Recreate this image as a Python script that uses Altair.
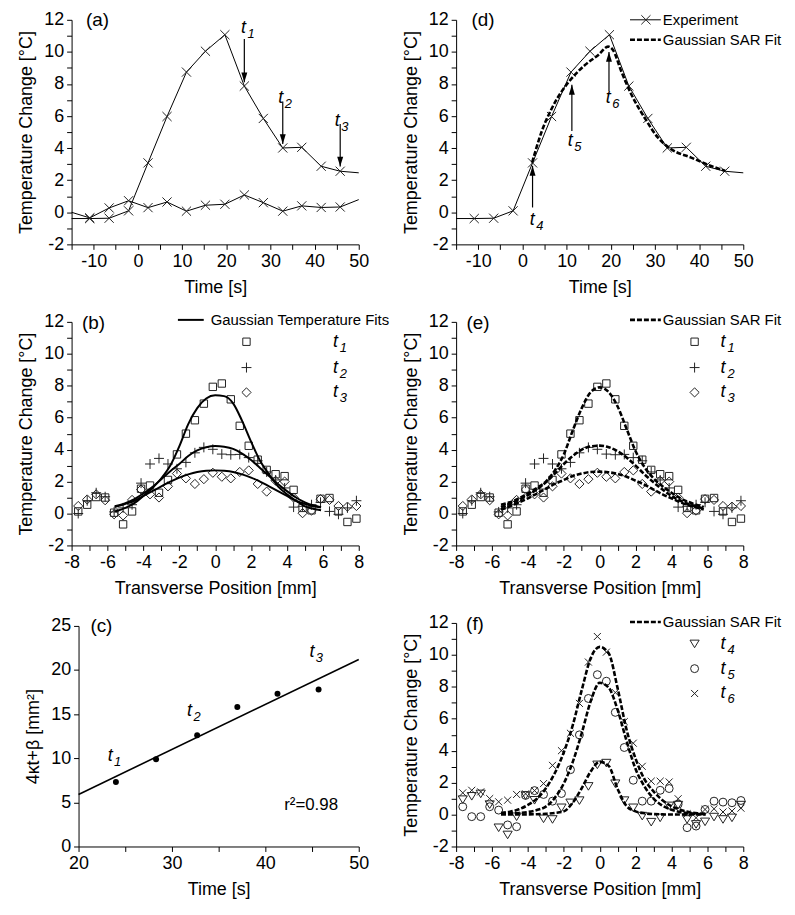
import altair as alt
import pandas as pd

FONT = "Liberation Sans"

# ---------------- data ----------------
# (a)/(d) time traces
time_a = [-15, -10.9, -6.5, -2.1, 2.3, 6.6, 11.0, 15.3, 19.7, 24.1, 28.4, 32.8, 37.1, 41.5, 45.8, 50]
heating = [-0.39, -0.39, -0.37, 0.09, 3.08, 5.97, 8.74, 10.04, 11.07, 7.87, 5.85, 4.01, 4.05, 2.87, 2.56, 2.46]
control = [0.0, -0.35, 0.27, 0.72, 0.29, 0.64, 0.07, 0.44, 0.5, 1.08, 0.6, 0.07, 0.4, 0.3, 0.33, 0.79]

# (d) Gaussian SAR fit in time
fit_time = [2.2, 4.4, 6.7, 8.9, 11.2, 14.2, 17.2, 19.4, 20.5, 22.4, 24.7, 27.7, 30.7, 33.7, 38.2, 42.7, 45.9]
fit_temp = [3.1, 5.06, 6.5, 7.54, 8.36, 9.19, 9.81, 10.33, 10.12, 8.78, 7.33, 5.88, 4.65, 3.93, 3.41, 2.89, 2.58]

# arrows (a) and (d)
arrow_a_x = [24.1, 32.8, 45.8]
arrow_a_from = [10.8, 6.9, 5.5]
arrow_a_to = [8.1, 4.25, 2.85]
label_a_x = [24.6, 33.0, 45.8]
label_a_y = [11.5, 7.1, 5.7]
label_a_sub = ["1", "2", "3"]

arrow_d_x = [2.3, 11.2, 19.6]
arrow_d_from = [0.3, 5.06, 7.54]
arrow_d_to = [2.9, 7.95, 10.0]
label_d_x = [2.9, 11.5, 20.1]
label_d_y = [-0.5, 4.45, 7.1]
label_d_sub = ["4", "5", "6"]

# transverse profiles
pos = [-7.63, -7.13, -6.63, -6.13, -5.63, -5.13, -4.63, -4.13, -3.63, -3.13, -2.63, -2.13,
       -1.63, -1.13, -0.63, -0.13, 0.37, 0.87, 1.37, 1.87, 2.37, 2.87, 3.37, 3.87,
       4.37, 4.87, 5.37, 5.87, 6.37, 6.87, 7.37, 7.87]
prof_t1 = [0.13, 0.55, 1.03, 1.0, 0.05, -0.68, 0.13, 1.55, 1.75, 1.3, 2.1, 3.7,
           5.0, 5.84, 6.88, 7.93, 8.14, 7.15, 5.49, 4.24, 3.37, 2.73, 2.46, 2.34,
           1.48, 0.35, 0.2, 0.92, 0.97, 0.13, -0.53, -0.32]
prof_t2 = [0.0, 0.8, 1.3, 1.05, 0.1, 0.35, 0.55, 1.9, 3.1, 3.45, 3.1, 2.8,
           3.2, 3.8, 4.14, 4.02, 3.72, 3.68, 3.7, 3.5, 3.3, 2.6, 2.1, 1.6,
           0.4, 0.45, 0.55, 0.7, 0.13, -0.05, 0.35, 0.8]
prof_t3 = [0.47, 0.88, 1.2, 0.83, -0.05, -0.12, 0.85, 1.5, 1.2, 1.0, 1.7, 2.5,
           2.2, 1.85, 2.15, 2.55, 2.3, 2.2, 2.6, 2.7, 1.85, 1.37, 2.05, 2.0,
           1.0, 0.02, 0.18, 0.9, 0.85, 0.47, 0.43, 0.47]
prof_t4 = [0.94, 1.15, 1.3, 0.63, -0.82, -1.27, -0.13, 1.2, 0.9, -0.26, -0.3, 0.43,
           0.74, 0.88, 1.77, 3.12, 3.23, 1.94, 0.88, 0.43, -0.09, -0.47, -0.2, 0.55,
           0.6, -0.3, -0.61, -0.45, -0.15, -0.3, -0.2, 0.6]
prof_t5 = [0.49, -0.13, -0.13, 0.49, 0.28, -0.65, -0.76, 1.2, 1.5, 1.26, 0.84, 1.32,
           2.81, 4.99, 7.27, 8.76, 8.35, 6.4, 4.2, 2.15, 0.84, 0.84, 1.52, 1.63,
           0.65, -0.82, -0.72, 0.32, 0.84, 0.78, 0.74, 0.88]
prof_t6 = [1.36, 1.52, 1.42, 1.0, 0.8, 0.9, 1.26, 1.3, 1.5, 1.94, 3.08, 4.0,
           5.09, 6.96, 9.55, 11.15, 10.17, 7.64, 5.82, 4.47, 3.02, 2.09, 2.09, 2.04,
           0.99, 0.05, -0.2, 0.32, 0.36, 0.16, 0.22, 0.4]

# (b) Gaussian temperature fits
fit_pos_b = [-5.6, -5.0, -4.5, -4.0, -3.5, -3.0, -2.5, -2.0, -1.5, -1.0, -0.5, 0.0,
             0.5, 1.0, 1.5, 2.0, 2.5, 3.0, 3.5, 4.0, 4.5, 5.0, 5.5, 5.9]
b_fit_t1 = [0.12, 0.35, 0.65, 1.1, 1.6, 2.2, 3.0, 4.2, 5.6, 6.6, 7.2, 7.4,
            7.35, 6.9, 5.8, 4.5, 3.3, 2.45, 1.7, 1.2, 0.8, 0.45, 0.28, 0.2]
b_fit_t2 = [0.45, 0.65, 0.9, 1.25, 1.65, 2.15, 2.65, 3.1, 3.6, 3.95, 4.15, 4.22,
            4.18, 4.05, 3.75, 3.35, 2.85, 2.35, 1.85, 1.4, 1.0, 0.7, 0.5, 0.4]
b_fit_t3 = [0.4, 0.6, 0.8, 1.1, 1.4, 1.7, 2.0, 2.25, 2.45, 2.6, 2.68, 2.7,
            2.67, 2.6, 2.45, 2.25, 2.0, 1.7, 1.4, 1.1, 0.8, 0.6, 0.45, 0.38]

# (e) Gaussian SAR fits for t1..t3
fit_pos_e = [-5.5, -5.0, -4.5, -4.0, -3.5, -3.0, -2.5, -2.0, -1.5, -1.0, -0.5, 0.0,
             0.5, 1.0, 1.5, 2.0, 2.5, 3.0, 3.5, 4.0, 4.5, 5.0, 5.5, 5.8]
e_fit_t1 = [0.55, 0.7, 0.95, 1.25, 1.6, 2.0, 2.7, 3.7, 5.2, 6.6, 7.6, 7.9,
            7.6, 6.7, 5.3, 3.9, 2.9, 2.2, 1.7, 1.3, 0.95, 0.7, 0.5, 0.4]
e_fit_t2 = [0.4, 0.6, 0.85, 1.15, 1.5, 1.95, 2.5, 3.1, 3.6, 4.0, 4.2, 4.25,
            4.15, 3.9, 3.5, 3.0, 2.45, 1.95, 1.5, 1.1, 0.8, 0.55, 0.4, 0.3]
e_fit_t3 = [0.25, 0.45, 0.7, 0.95, 1.25, 1.55, 1.85, 2.1, 2.35, 2.5, 2.6, 2.62,
            2.58, 2.48, 2.3, 2.05, 1.8, 1.5, 1.2, 0.95, 0.7, 0.5, 0.35, 0.25]

# (f) Gaussian SAR fits for t4..t6
fit_pos_f = [-5.5, -5.0, -4.5, -4.0, -3.5, -3.0, -2.5, -2.0, -1.5, -1.0, -0.5, 0.0,
             0.5, 1.0, 1.5, 2.0, 2.5, 3.0, 3.5, 4.0, 4.5, 5.0, 5.5, 5.9]
f_fit_t4 = [0.0, 0.0, 0.0, 0.01, 0.02, 0.05, 0.1, 0.2, 0.75, 1.65, 2.7, 3.3,
            3.05, 1.6, 0.53, 0.2, 0.08, 0.03, 0.01, 0.0, 0.0, 0.0, 0.0, 0.0]
f_fit_t5 = [0.05, 0.07, 0.1, 0.16, 0.28, 0.5, 1.05, 1.95, 3.3, 5.1, 7.1, 8.25,
            7.95, 6.55, 4.6, 2.85, 1.75, 1.0, 0.55, 0.3, 0.15, 0.08, 0.04, 0.02]
f_fit_t6 = [0.1, 0.18, 0.33, 0.6, 1.0, 1.65, 2.6, 3.9, 5.6, 7.8, 9.8, 10.5,
            10.1, 7.9, 5.3, 3.5, 2.2, 1.45, 0.9, 0.52, 0.3, 0.15, 0.08, 0.05]

# (c) width parameter vs time
c_time = [24.0, 28.3, 32.7, 37.0, 41.3, 45.7]
c_val = [7.3, 9.9, 12.6, 15.8, 17.3, 17.8]
c_line_time = [20, 50]
c_line_val = [5.9, 21.2]
label_c_x = [23.7, 32.2, 45.3]
label_c_y = [10.3, 15.4, 22.0]
label_c_sub = ["1", "2", "3"]

# axis ticks
time_ticks = [-15, -10, -5, 0, 5, 10, 15, 20, 25, 30, 35, 40, 45, 50]
temp_ticks = [-2, -1, 0, 1, 2, 3, 4, 5, 6, 7, 8, 9, 10, 11, 12]
pos_ticks = [-8, -7, -6, -5, -4, -3, -2, -1, 0, 1, 2, 3, 4, 5, 6, 7, 8]
c_time_ticks = [20, 25, 30, 35, 40, 45, 50]
c_val_ticks = [0, 5, 10, 15, 20, 25]

# ---------------- styles ----------------
XSHAPE = "M-1,-1L1,1M-1,1L1,-1"
PLUS = "M-1,0L1,0M0,-1L0,1"
TRI_DOWN = "M-1,-0.8L1,-0.8L0,0.85Z"
HEAD_DOWN = "M-0.6,-1L0.6,-1L0,1Z"
HEAD_UP = "M-0.6,1L0.6,1L0,-1Z"
MK = "#222222"
DASH = [5, 2]

ONE = pd.DataFrame({"k": [0]})


def axis(title, values, every, **kw):
    return alt.Axis(title=title, values=values,
                    labelExpr=f"datum.value % {every} == 0 ? '' + datum.value : ''", **kw)


def enc(xs, xa, ys, ya, xf="x", yf="y"):
    return dict(x=alt.X(f"{xf}:Q", scale=xs, axis=xa), y=alt.Y(f"{yf}:Q", scale=ys, axis=ya))


def ptext(s, x, y, size=15, align="left", style="normal"):
    return alt.Chart(ONE).mark_text(text=s, align=align, baseline="middle", font=FONT,
                                    fontSize=size, fontStyle=style, color="black").encode(
        x=alt.value(x), y=alt.value(y))


def tsub(sub, x, y):
    """italic t with a subscript digit, placed in pixels (legends)"""
    return [ptext("t", x, y, size=18, style="italic"),
            ptext(sub, x + 7, y + 6, size=13, style="italic")]


def hline(x1, x2, y, dash=None, width=1.0):
    kw = dict(color="black", strokeWidth=width)
    if dash:
        kw["strokeDash"] = dash
    return alt.Chart(ONE).mark_rule(**kw).encode(x=alt.value(x1), x2=alt.value(x2), y=alt.value(y))


def psym(shape, size, x, y, filled=False):
    return alt.Chart(ONE).mark_point(shape=shape, size=size, filled=filled, color=MK,
                                     strokeWidth=1, opacity=1).encode(x=alt.value(x), y=alt.value(y))


def dlabels(xv, yv, subs, e):
    df = pd.DataFrame({"x": xv, "y": yv, "sub": subs})
    base = alt.Chart(df).mark_text(text="t", font=FONT, fontSize=18, fontStyle="italic",
                                   baseline="middle", align="center", dx=-3, color="black").encode(**e)
    sub = alt.Chart(df).mark_text(font=FONT, fontSize=13, fontStyle="italic",
                                  baseline="middle", align="left", dx=1, dy=6,
                                  color="black").encode(text="sub:N", **e)
    return [base, sub]


def arrows(xv, y_from, y_to, xs, xa, ys, ya, down=True):
    df = pd.DataFrame({"x": xv, "y": y_from, "y_to": y_to})
    rule = alt.Chart(df).mark_rule(color="black", strokeWidth=1.2).encode(
        y2="y_to:Q", **enc(xs, xa, ys, ya))
    head = alt.Chart(df).mark_point(shape=HEAD_DOWN if down else HEAD_UP, size=100, filled=True,
                                    color="black", opacity=1, yOffset=-5 if down else 5).encode(
        **enc(xs, xa, ys, ya, yf="y_to"))
    return [rule, head]


W = 289
H1 = 226
H = 225

# ---------------- panel (a) ----------------
xs_t = alt.Scale(domain=[-15, 50], nice=False, zero=False)
ys_T = alt.Scale(domain=[-2, 12], nice=False, zero=False)
xa_t = axis("Time [s]", time_ticks, 10)
ya_T = axis("Temperature Change [°C]", temp_ticks, 2)

df_a = pd.concat([
    pd.DataFrame({"x": time_a, "y": heating, "s": "heating"}),
    pd.DataFrame({"x": time_a, "y": control, "s": "control"}),
])
e_a = enc(xs_t, xa_t, ys_T, ya_T)
a_lines = alt.Chart(df_a).mark_line(color="black", strokeWidth=1).encode(detail="s:N", **e_a)
a_pts = alt.Chart(df_a).transform_filter("datum.x > -14 && datum.x < 49").mark_point(
    shape=XSHAPE, size=85, filled=False, color=MK, strokeWidth=1, opacity=1).encode(**e_a)
panel_a = alt.layer(
    a_lines, a_pts, *arrows(arrow_a_x, arrow_a_from, arrow_a_to, xs_t, xa_t, ys_T, ya_T, True),
    *dlabels(label_a_x, label_a_y, label_a_sub, e_a),
    ptext("(a)", 26, 0, size=19, align="center")
).properties(width=W, height=H1)

# ---------------- panel (d) ----------------
df_d = pd.DataFrame({"x": time_a, "y": heating})
df_dfit = pd.DataFrame({"x": fit_time, "y": fit_temp})
d_line = alt.Chart(df_d).mark_line(color="black", strokeWidth=1).encode(**e_a)
d_pts = alt.Chart(df_d).transform_filter("datum.x > -14 && datum.x < 49").mark_point(
    shape=XSHAPE, size=85, filled=False, color=MK, strokeWidth=1, opacity=1).encode(**e_a)
d_fit = alt.Chart(df_dfit).mark_line(color="black", strokeWidth=2.6, strokeDash=DASH,
                                     interpolate="monotone").encode(**e_a)
panel_d = alt.layer(
    d_line, d_pts, d_fit,
    *arrows(arrow_d_x, arrow_d_from, arrow_d_to, xs_t, xa_t, ys_T, ya_T, False),
    *dlabels(label_d_x, label_d_y, label_d_sub, e_a),
    ptext("(d)", 27, 0, size=19, align="center"),
    hline(175, 206, 0), psym(XSHAPE, 85, 191, 0), ptext("Experiment", 208, 0),
    hline(175, 206, 20, DASH, 2.6), ptext("Gaussian SAR Fit", 208, 20),
).properties(width=W, height=H1)

# ---------------- panels (b), (e), (f) ----------------
xs_p = alt.Scale(domain=[-8, 8], nice=False, zero=False)
xa_p = axis("Transverse Position [mm]", pos_ticks, 2)
e_p = enc(xs_p, xa_p, ys_T, ya_T)

df_prof = pd.DataFrame({"x": pos, "t1": prof_t1, "t2": prof_t2, "t3": prof_t3,
                        "t4": prof_t4, "t5": prof_t5, "t6": prof_t6})


def scatter(col, shape, size):
    return alt.Chart(df_prof).mark_point(shape=shape, size=size, filled=False, color=MK,
                                         strokeWidth=1, opacity=1).encode(
        **enc(xs_p, xa_p, ys_T, ya_T, yf=col))


def fits(xv, series, dashed):
    frames = [pd.DataFrame({"x": xv, "y": s, "s": f"f{i}"}) for i, s in enumerate(series)]
    df = pd.concat(frames)
    kw = dict(color="black", interpolate="monotone")
    if dashed:
        kw.update(strokeWidth=2.6, strokeDash=DASH)
    else:
        kw.update(strokeWidth=2)
    return alt.Chart(df).mark_line(**kw).encode(detail="s:N", **e_p)


def sym_legend(shapes, subs, sx, lx, rows):
    out = []
    for (shape, size), sub, ry in zip(shapes, subs, rows):
        out.append(psym(shape, size, sx, ry))
        out.extend(tsub(sub, lx, ry))
    return out


shapes_123 = [("square", 55), (PLUS, 100), ("diamond", 85)]
shapes_456 = [(TRI_DOWN, 85), ("circle", 64), (XSHAPE, 50)]

panel_b = alt.layer(
    scatter("t1", "square", 55), scatter("t2", PLUS, 100), scatter("t3", "diamond", 85),
    fits(fit_pos_b, [b_fit_t1, b_fit_t2, b_fit_t3], False),
    ptext("(b)", 22, 1, size=19, align="center"),
    hline(107, 133, -2, None, 2), ptext("Gaussian Temperature Fits", 140, -2),
    *sym_legend(shapes_123, ["1", "2", "3"], 176, 263, [20, 46, 71]),
).properties(width=W, height=H)

panel_e = alt.layer(
    scatter("t1", "square", 55), scatter("t2", PLUS, 100), scatter("t3", "diamond", 85),
    fits(fit_pos_e, [e_fit_t1, e_fit_t2, e_fit_t3], True),
    ptext("(e)", 22, 1, size=19, align="center"),
    hline(175, 206, -2, DASH, 2.6), ptext("Gaussian SAR Fit", 208, -2),
    *sym_legend(shapes_123, ["1", "2", "3"], 240, 266, [20, 46, 71]),
).properties(width=W, height=H)

panel_f = alt.layer(
    scatter("t4", TRI_DOWN, 85), scatter("t5", "circle", 64), scatter("t6", XSHAPE, 50),
    fits(fit_pos_f, [f_fit_t4, f_fit_t5, f_fit_t6], True),
    ptext("(f)", 19, 1, size=19, align="center"),
    hline(175, 206, -1, DASH, 2.6), ptext("Gaussian SAR Fit", 208, -1),
    *sym_legend(shapes_456, ["4", "5", "6"], 240, 266, [21, 46, 71]),
).properties(width=W, height=H)

# ---------------- panel (c) ----------------
xs_c = alt.Scale(domain=[20, 50], range=[7, 289], nice=False, zero=False)
ys_c = alt.Scale(domain=[0, 25], range=[225, 3], nice=False, zero=False)
xa_c = axis("Time [s]", c_time_ticks, 10)
ya_c = axis("4κt+β [mm²]", c_val_ticks, 5, offset=-7)
e_c = enc(xs_c, xa_c, ys_c, ya_c)
c_pts = alt.Chart(pd.DataFrame({"x": c_time, "y": c_val})).mark_point(
    shape="circle", size=36, filled=True, color="black", opacity=1).encode(**e_c)
c_line = alt.Chart(pd.DataFrame({"x": c_line_time, "y": c_line_val})).mark_line(
    color="black", strokeWidth=1.6).encode(**e_c)
c_r2 = alt.Chart(pd.DataFrame({"x": [44.9], "y": [4.67], "label": ["r²=0.98"]})).mark_text(
    font=FONT, fontSize=17, baseline="middle", align="center", color="black").encode(
    text="label:N", **e_c)
panel_c = alt.layer(
    c_line, c_pts, *dlabels(label_c_x, label_c_y, label_c_sub, e_c), c_r2,
    ptext("(c)", 30, 3, size=19, align="center")
).properties(width=W, height=H)

chart = alt.concat(panel_a, panel_d, panel_b, panel_e, panel_c, panel_f, columns=2).properties(
    spacing={"row": 78, "column": 98}, bounds="flush",
    padding={"left": 9, "top": 0, "right": 5, "bottom": 5},
).configure_view(stroke=None).configure_axis(
    labelFont=FONT, titleFont=FONT, labelFontSize=18, titleFontSize=18,
    titleFontWeight="normal", labelColor="black", titleColor="black",
    domainColor="black", tickColor="black", grid=False, tickSize=5,
    labelFlush=False, labelOverlap=False, labelPadding=3, titlePadding=8,
)

chart.save("out.html", embed_options={"renderer": "svg", "actions": False})
